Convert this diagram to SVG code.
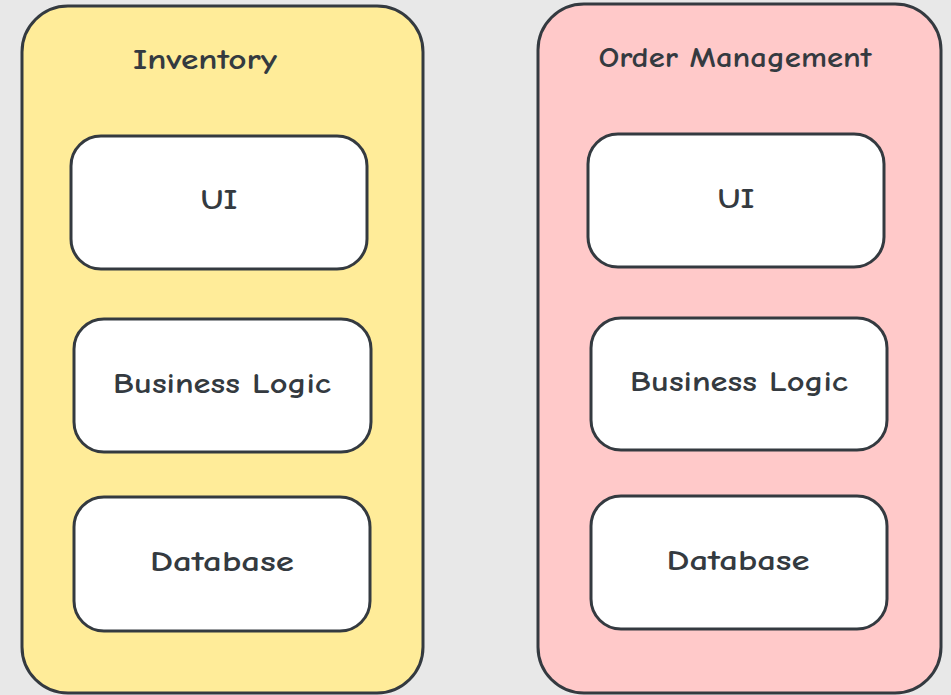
<svg xmlns="http://www.w3.org/2000/svg" width="951" height="695" viewBox="0 0 951 695">
<style>
.bg{fill:#e8e8e8}
.box{stroke:#343a40;stroke-width:3;stroke-linejoin:round}
.inner{fill:#ffffff;stroke:#343a40;stroke-width:3}
.lbl{font-family:"Comic Neue","Liberation Sans",sans-serif;font-weight:700;fill:#343a40;font-size:28px;text-anchor:middle;dominant-baseline:central}
</style>
<rect class="bg" x="0" y="0" width="951" height="695"/>
<g id="inventory">
<rect class="box" x="22" y="6" width="401" height="687" rx="46" fill="#ffec99"/>
<text class="lbl" x="205" y="60" textLength="144" lengthAdjust="spacingAndGlyphs">Inventory</text>
</g>
<g id="inv-ui">
<rect class="inner" x="71" y="136" width="296" height="133" rx="30"/>
<text class="lbl" x="219" y="200" textLength="37" lengthAdjust="spacingAndGlyphs">UI</text>
</g>
<g id="inv-bl">
<rect class="inner" x="74" y="319" width="297" height="133" rx="30"/>
<text class="lbl" x="222" y="384" textLength="218" lengthAdjust="spacingAndGlyphs">Business Logic</text>
</g>
<g id="inv-db">
<rect class="inner" x="74" y="497" width="296" height="134" rx="30"/>
<text class="lbl" x="222" y="562" textLength="144" lengthAdjust="spacingAndGlyphs">Database</text>
</g>
<g id="order">
<rect class="box" x="538" y="4" width="403" height="689" rx="46" fill="#ffc9c9"/>
<text class="lbl" x="735" y="58" textLength="273" lengthAdjust="spacingAndGlyphs">Order Management</text>
</g>
<g id="ord-ui">
<rect class="inner" x="588" y="134" width="296" height="133" rx="30"/>
<text class="lbl" x="736" y="199" textLength="37" lengthAdjust="spacingAndGlyphs">UI</text>
</g>
<g id="ord-bl">
<rect class="inner" x="591" y="318" width="296" height="132" rx="30"/>
<text class="lbl" x="739" y="382" textLength="218" lengthAdjust="spacingAndGlyphs">Business Logic</text>
</g>
<g id="ord-db">
<rect class="inner" x="591" y="496" width="296" height="133" rx="30"/>
<text class="lbl" x="738" y="561" textLength="143" lengthAdjust="spacingAndGlyphs">Database</text>
</g>
<g id="connectors"/>
</svg>
